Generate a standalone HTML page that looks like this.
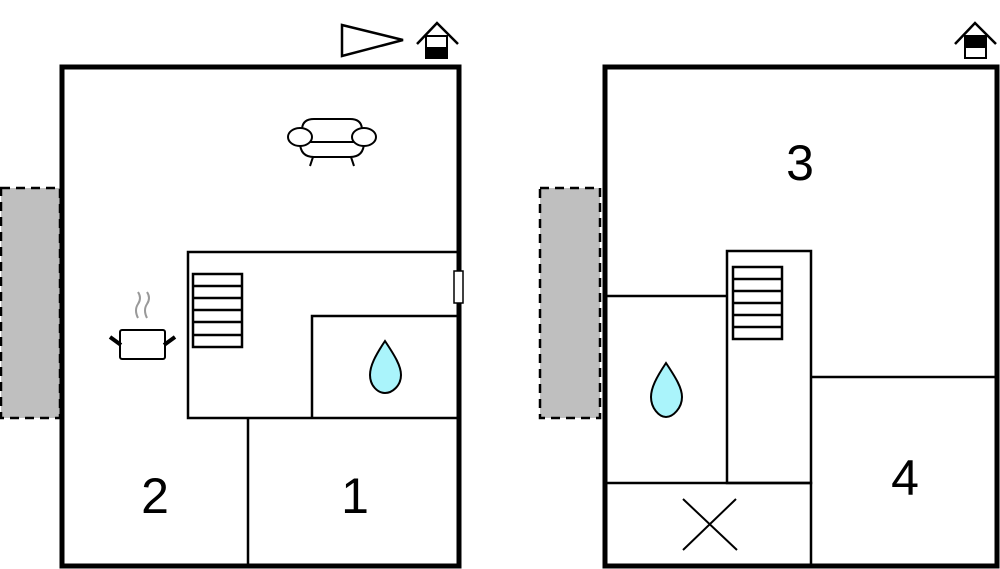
<!DOCTYPE html>
<html><head><style>body{margin:0;background:#fff}svg{display:block}</style></head><body>
<svg width="1000" height="569" viewBox="0 0 1000 569" xmlns="http://www.w3.org/2000/svg" font-family="Liberation Sans, sans-serif">
<rect x="1" y="188" width="59" height="230" fill="#bfbfbf" stroke="#000" stroke-width="2.5" stroke-dasharray="9,6"/>
<rect x="540" y="188" width="60" height="230" fill="#bfbfbf" stroke="#000" stroke-width="2.5" stroke-dasharray="9,6"/>
<!-- left building -->
<rect x="62" y="67" width="397" height="499" fill="#fff" stroke="#000" stroke-width="5"/>
<g stroke="#000" stroke-width="2.5" fill="none">
<path d="M457 252 H188 V418 H457"/>
<path d="M312 418 V316 H457"/>
<path d="M248 418 V566"/>
<rect x="193" y="274" width="49" height="73"/>
<path d="M193 286 H242 M193 298 H242 M193 310 H242 M193 322 H242 M193 335 H242"/>
</g>
<rect x="454" y="271" width="9" height="32" fill="#fff" stroke="#000" stroke-width="1.5"/>
<g stroke="#000" stroke-width="2" fill="#fff">
<rect x="120" y="330" width="45" height="29" rx="2"/>
</g>
<path d="M110 337 L121 345 M175 337 L164 345" stroke="#000" stroke-width="4"/>
<path d="M138 318 q-4 -8 0 -14 q4 -6 0 -12 M147 318 q-4 -8 0 -14 q4 -6 0 -12" stroke="#999" stroke-width="2" fill="none"/>
<!-- sofa -->
<g stroke="#000" stroke-width="2" fill="#fff">
<path d="M302 150 V130 q0 -11 12 -11 h36 q12 0 12 11 V150 z"/>
<path d="M300 142 q0 15 14 15 h36 q14 0 14 -15 z"/>
<ellipse cx="300" cy="137" rx="12" ry="9"/>
<ellipse cx="364" cy="137" rx="12" ry="9"/>
<path d="M313 157 L310 166 M351 157 L354 166" fill="none"/>
</g>
<path d="M342 25 L342 56 L403 40 Z" fill="#fff" stroke="#000" stroke-width="2.5"/>
<path d="M417 44 L437 23 L458 44" stroke="#000" stroke-width="2.5" fill="none"/>
<rect x="426" y="36" width="21" height="22" fill="#fff" stroke="#000" stroke-width="2"/>
<rect x="426" y="47" width="21" height="11" fill="#000"/>
<text x="155" y="513" font-size="50" text-anchor="middle">2</text>
<text x="355" y="513" font-size="50" text-anchor="middle">1</text>
<!-- right building -->
<rect x="605" y="67" width="392" height="499" fill="#fff" stroke="#000" stroke-width="5"/>
<g stroke="#000" stroke-width="2.5" fill="none">
<rect x="727" y="251" width="84" height="232"/>
<path d="M605 296 H727 M605 483 H811 V566 M811 377 H997"/>
<rect x="733" y="267" width="49" height="72"/>
<path d="M733 279 H782 M733 291 H782 M733 303 H782 M733 315 H782 M733 327 H782"/>
<path d="M683 499 L737 550 M736 499 L683 550" stroke-width="2"/>
</g>
<!-- drops -->
<path d="M385 341 C375 356 370 366 370 375 C370 386 378 393 385 393 C392 393 401 386 401 375 C401 366 395 356 385 341 Z" fill="#aaf4fb" stroke="#000" stroke-width="2"/>
<path d="M666 363 C656 378 651 388 651 397 C651 408 659 417 666 417 C673 417 682 408 682 397 C682 388 676 378 666 363 Z" fill="#aaf4fb" stroke="#000" stroke-width="2"/>
<path d="M955 44 L975 23 L996 44" stroke="#000" stroke-width="2.5" fill="none"/>
<rect x="965" y="36" width="21" height="22" fill="#fff" stroke="#000" stroke-width="2"/>
<rect x="965" y="37" width="21" height="11" fill="#000"/>
<text x="800" y="180" font-size="50" text-anchor="middle">3</text>
<text x="905" y="495" font-size="50" text-anchor="middle">4</text>
</svg>
</body></html>
